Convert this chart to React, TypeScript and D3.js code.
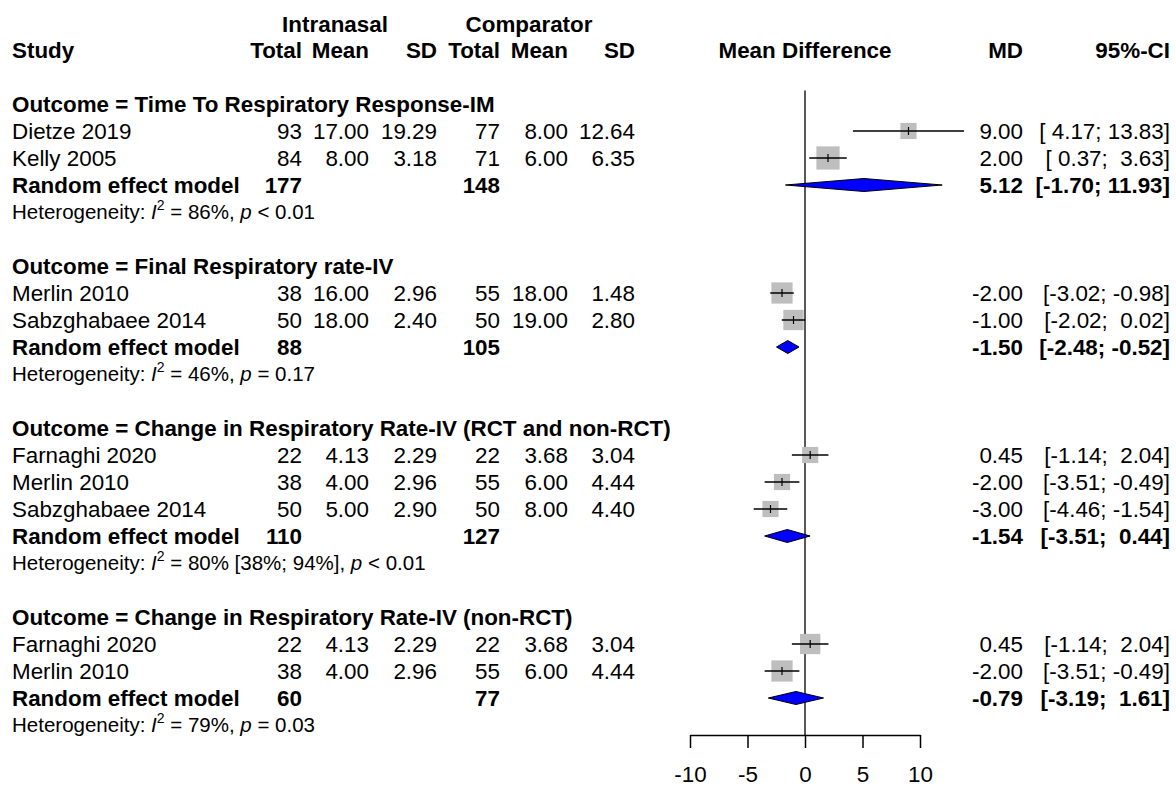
import React, { useEffect, useRef } from "react";
import * as d3 from "d3";

// outcomes (subgroups) and the studies inside each one
const outcomes = [
  "Time To Respiratory Response-IM",
  "Final Respiratory rate-IV",
  "Change in Respiratory Rate-IV (RCT and non-RCT)",
  "Change in Respiratory Rate-IV (non-RCT)",
];
const studyGroup = [0, 0, 1, 1, 2, 2, 2, 3, 3];
const studyNames = [
  "Dietze 2019", "Kelly 2005",
  "Merlin 2010", "Sabzghabaee 2014",
  "Farnaghi 2020", "Merlin 2010", "Sabzghabaee 2014",
  "Farnaghi 2020", "Merlin 2010",
];
const inTotal = [93, 84, 38, 50, 22, 38, 50, 22, 38];
const inMean = [17.0, 8.0, 16.0, 18.0, 4.13, 4.0, 5.0, 4.13, 4.0];
const inSD = [19.29, 3.18, 2.96, 2.4, 2.29, 2.96, 2.9, 2.29, 2.96];
const cTotal = [77, 71, 55, 50, 22, 55, 50, 22, 55];
const cMean = [8.0, 6.0, 18.0, 19.0, 3.68, 6.0, 8.0, 3.68, 6.0];
const cSD = [12.64, 6.35, 1.48, 2.8, 3.04, 4.44, 4.4, 3.04, 4.44];
const md = [9.0, 2.0, -2.0, -1.0, 0.45, -2.0, -3.0, 0.45, -2.0];
const mdLow = [4.17, 0.37, -3.02, -2.02, -1.14, -3.51, -4.46, -1.14, -3.51];
const mdHigh = [13.83, 3.63, -0.98, 0.02, 2.04, -0.49, -1.54, 2.04, -0.49];
const weights = [29, 60, 50, 46, 29, 29, 29, 46, 50]; // % weight (box size), estimated

// pooled (random effect model) per outcome
const poolInTotal = [177, 88, 110, 60];
const poolCTotal = [148, 105, 127, 77];
const poolMD = [5.12, -1.5, -1.54, -0.79];
const poolLow = [-1.7, -2.48, -3.51, -3.19];
const poolHigh = [11.93, -0.52, 0.44, 1.61];
const hetI2 = ["86%", "46%", "80% [38%; 94%]", "79%"];
const hetP = ["< 0.01", "= 0.17", "< 0.01", "= 0.03"];

const xTicks = [-10, -5, 0, 5, 10];

const W = 1176, H = 786;
const FONT = "'Liberation Sans', Arial, Helvetica, sans-serif";
const FS = 22.4;
const HET_FS = 20.5;
const colRight = [302, 369, 437, 500, 568, 635];
const mdRight = 1023;
const ciRight = 1170;
const axisY = 735;

const f2 = d3.format(".2f");
const fmtNum = (v: number) => f2(v).replace("−", "-");
const ciText = (lo: number, hi: number) =>
  `[${fmtNum(lo).padStart(5)}; ${fmtNum(hi).padStart(5)}]`;

type Row =
  | { kind: "head"; g: number; k: number }
  | { kind: "study"; i: number; k: number }
  | { kind: "pool"; g: number; k: number }
  | { kind: "het"; g: number; k: number };

function buildRows(): Row[] {
  const rows: Row[] = [];
  let k = 2;
  outcomes.forEach((_, g) => {
    rows.push({ kind: "head", g, k: k++ });
    studyGroup.forEach((sg, i) => {
      if (sg === g) rows.push({ kind: "study", i, k: k++ });
    });
    rows.push({ kind: "pool", g, k: k++ });
    rows.push({ kind: "het", g, k: k++ });
    k++; // blank line between outcomes
  });
  return rows;
}

export default function App() {
  const axisRef = useRef<SVGGElement>(null);

  const x = d3.scaleLinear().domain([-10, 10]).range([690, 920]);
  const y = d3.scaleLinear().domain([0, 1]).range([50, 77]); // row index -> centre
  const box = d3.scaleSqrt().domain([0, 100]).range([0, 30]);
  const rows = buildRows();
  const base = (k: number) => y(k) + 7.5;

  useEffect(() => {
    const g = d3.select(axisRef.current!);
    g.selectAll("*").remove();
    g.call(
      d3.axisBottom(x).tickValues(xTicks).tickSize(13).tickSizeOuter(0).tickPadding(18)
        .tickFormat((d) => String(d))
    );
    g.select(".domain").attr("stroke", "#000").attr("stroke-width", 1.5);
    g.selectAll(".tick line").attr("stroke", "#000").attr("stroke-width", 1.5);
    g.selectAll(".tick text")
      .attr("fill", "#000")
      .style("font-size", `${FS}px`)
      .style("font-family", FONT);
  }, []);

  const numCells = (vals: string[], k: number, bold = false) =>
    vals.map((v, j) =>
      v === "" ? null : (
        <text key={j} x={colRight[j]} y={base(k)} textAnchor="end" fontWeight={bold ? "bold" : "normal"}>
          {v}
        </text>
      )
    );

  return (
    <svg width={W} height={H} style={{ position: "absolute", left: 0, top: 0, background: "#fff" }}
      fontFamily={FONT} fontSize={FS} fill="#000">
      {/* column headers */}
      <g fontWeight="bold">
        <text x={335} y={32} textAnchor="middle">Intranasal</text>
        <text x={529} y={32} textAnchor="middle">Comparator</text>
        <text x={12} y={58}>Study</text>
        {["Total", "Mean", "SD", "Total", "Mean", "SD"].map((t, j) => (
          <text key={j} x={colRight[j]} y={58} textAnchor="end">{t}</text>
        ))}
        <text x={x(0)} y={58} textAnchor="middle">Mean Difference</text>
        <text x={mdRight} y={58} textAnchor="end">MD</text>
        <text x={ciRight} y={58} textAnchor="end">95%-CI</text>
      </g>

      {/* line of no effect */}
      <line x1={x(0)} x2={x(0)} y1={y(1.5)} y2={axisY} stroke="#222" strokeWidth={1.5} />

      {rows.map((r, idx) => {
        if (r.kind === "head") {
          return (
            <text key={idx} x={12} y={base(r.k)} fontWeight="bold">
              Outcome = {outcomes[r.g]}
            </text>
          );
        }
        if (r.kind === "study") {
          const i = r.i;
          const cy = y(r.k);
          const s = box(weights[i]);
          return (
            <g key={idx}>
              <text x={12} y={base(r.k)}>{studyNames[i]}</text>
              {numCells(
                [String(inTotal[i]), fmtNum(inMean[i]), fmtNum(inSD[i]),
                 String(cTotal[i]), fmtNum(cMean[i]), fmtNum(cSD[i])],
                r.k
              )}
              <rect x={x(md[i]) - s / 2} y={cy - s / 2} width={s} height={s} fill="#bebebe" />
              <line x1={x(mdLow[i])} x2={x(mdHigh[i])} y1={cy} y2={cy} stroke="#000" strokeWidth={1.5} />
              <line x1={x(md[i])} x2={x(md[i])} y1={cy - 4} y2={cy + 4} stroke="#000" strokeWidth={1.2} />
              <text x={mdRight} y={base(r.k)} textAnchor="end">{fmtNum(md[i])}</text>
              <text x={ciRight} y={base(r.k)} textAnchor="end" style={{ whiteSpace: "pre" }}>
                {ciText(mdLow[i], mdHigh[i])}
              </text>
            </g>
          );
        }
        if (r.kind === "pool") {
          const g = r.g;
          const cy = y(r.k);
          const h = 6.5;
          const pts: [number, number][] = [
            [x(poolLow[g]), cy], [x(poolMD[g]), cy - h],
            [x(poolHigh[g]), cy], [x(poolMD[g]), cy + h],
          ];
          return (
            <g key={idx} fontWeight="bold">
              <text x={12} y={base(r.k)}>Random effect model</text>
              {numCells([String(poolInTotal[g]), "", "", String(poolCTotal[g]), "", ""], r.k, true)}
              <polygon points={pts.map((p) => p.join(",")).join(" ")} fill="#0000ff" stroke="#000" strokeWidth={1} />
              <text x={mdRight} y={base(r.k)} textAnchor="end">{fmtNum(poolMD[g])}</text>
              <text x={ciRight} y={base(r.k)} textAnchor="end" style={{ whiteSpace: "pre" }}>
                {ciText(poolLow[g], poolHigh[g])}
              </text>
            </g>
          );
        }
        const g = r.g;
        return (
          <text key={idx} x={12} y={base(r.k) - 1} fontSize={HET_FS}>
            Heterogeneity: <tspan fontStyle="italic">I</tspan>
            <tspan fontSize={14} dy={-9}>2</tspan>
            <tspan dy={9}>{` = ${hetI2[g]}, `}</tspan>
            <tspan fontStyle="italic">p</tspan>
            <tspan>{` ${hetP[g]}`}</tspan>
          </text>
        );
      })}

      <g ref={axisRef} transform={`translate(0,${axisY})`} />
    </svg>
  );
}
